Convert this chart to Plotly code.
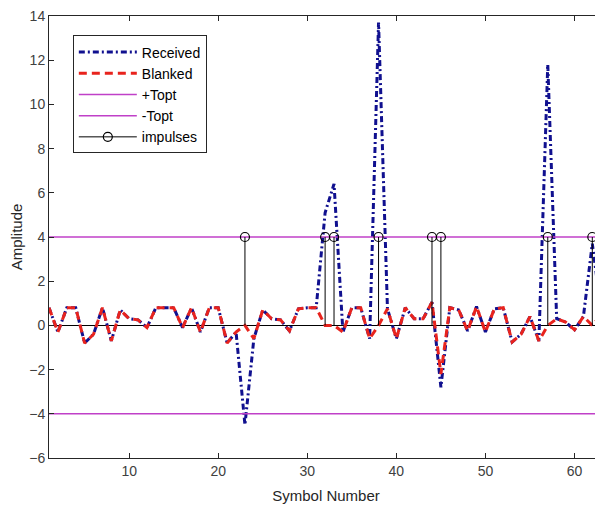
from plotly import graph_objects as go

# symbol index and the two signal traces
symbols = list(range(1, 65))

received = [0.8, -0.3, 0.8, 0.8, -0.8, -0.4, 0.8, -0.7, 0.7, 0.3,
            0.25, -0.1, 0.8, 0.8, 0.8, -0.1, 0.8, -0.3, 0.8, 0.8,
            -0.8, -0.3, -4.5, -0.6, 0.7, 0.3, 0.25, -0.25, 0.75, 0.8,
            0.8, 5.1, 6.4, -0.3, 0.8, 0.8, -0.6, 13.7, 0.75, -0.6,
            0.8, 0.3, 0.3, 1.05, -2.8, 0.8, 0.7, -0.25, 0.85, -0.3,
            0.75, 0.8, -0.75, -0.4, 0.4, -0.7, 11.8, 0.3, 0.15, -0.2,
            0.4, 3.7, 0.6, 0.3]

blanked = [0.8, -0.3, 0.8, 0.8, -0.8, -0.4, 0.8, -0.7, 0.7, 0.3,
           0.25, -0.1, 0.8, 0.8, 0.8, -0.1, 0.8, -0.3, 0.8, 0.8,
           -0.8, -0.3, 0.0, -0.6, 0.7, 0.3, 0.25, -0.25, 0.75, 0.8,
           0.8, 0.0, 0.0, -0.3, 0.8, 0.8, -0.6, 0.0, 0.75, -0.6,
           0.8, 0.3, 0.3, 1.05, -2.2, 0.8, 0.7, -0.25, 0.85, -0.3,
           0.75, 0.8, -0.75, -0.4, 0.4, -0.7, 0.0, 0.3, 0.15, -0.2,
           0.4, 0.0, 0.5, 0.3]

topt = 4
impulse_pos = [23, 32, 33, 38, 44, 45, 57, 62]
impulse_val = [4, 4, 4, 4, 4, 4, 4, 4]

x_ticks = [10, 20, 30, 40, 50, 60]
y_ticks = [-6, -4, -2, 0, 2, 4, 6, 8, 10, 12, 14]

FONT = "Arial, Liberation Sans, Helvetica, sans-serif"
AXIS_COL = "#262626"

fig = go.Figure()

fig.add_trace(go.Scatter(
    x=symbols, y=received, mode="lines", name="Received",
    line={"color": "#10108f", "width": 3, "dash": "6px,3px,2px,3px"},
))
fig.add_trace(go.Scatter(
    x=symbols, y=blanked, mode="lines", name="Blanked",
    line={"color": "#e8231d", "width": 3, "dash": "8px,5px"},
))
fig.add_trace(go.Scatter(
    x=[symbols[0], symbols[-1]], y=[topt, topt], mode="lines", name="+Topt",
    line={"color": "#c040c8", "width": 1.5},
))
fig.add_trace(go.Scatter(
    x=[symbols[0], symbols[-1]], y=[-topt, -topt], mode="lines", name="-Topt",
    line={"color": "#c040c8", "width": 1.5},
))

# stems: top point first (circle), then baseline point (hidden marker), then a gap
stem_x, stem_y, stem_mc = [], [], []
for p, v in zip(impulse_pos, impulse_val):
    stem_x += [p, p, None]
    stem_y += [v, 0, None]
    stem_mc += ["black", "rgba(0,0,0,0)", "rgba(0,0,0,0)"]

fig.add_trace(go.Scatter(
    x=stem_x, y=stem_y, mode="lines+markers", name="impulses",
    line={"color": "black", "width": 1},
    marker={"symbol": "circle-open", "size": 9, "color": stem_mc,
            "line": {"width": 1.2}},
))

# page body adds an 8px offset, so the figure is sized to what is visible
fig.update_layout(
    width=595, height=505,
    margin={"l": 41, "r": 0, "t": 8, "b": 55, "autoexpand": False},
    paper_bgcolor="white", plot_bgcolor="white",
    font={"family": FONT, "size": 14, "color": AXIS_COL},
    showlegend=True,
    legend={
        "x": 0.043, "y": 0.956, "xanchor": "left", "yanchor": "top",
        "bgcolor": "white", "bordercolor": AXIS_COL, "borderwidth": 1,
        "font": {"family": FONT, "size": 14, "color": "black"},
        "tracegroupgap": 0, "itemwidth": 58,
    },
)

fig.update_xaxes(
    range=[1, 63.2], tickvals=x_ticks, automargin=False,
    ticks="inside", ticklen=5, tickcolor=AXIS_COL,
    showline=True, linecolor=AXIS_COL, linewidth=1, mirror="ticks",
    showgrid=False, zeroline=False, ticklabeloverflow="allow",
    title={"text": "Symbol Number", "standoff": 12,
           "font": {"size": 15, "color": AXIS_COL}},
    tickfont={"size": 14, "color": "#404040"},
)
fig.update_yaxes(
    range=[-6, 14], tickvals=y_ticks, automargin=False,
    ticks="inside", ticklen=5, tickcolor=AXIS_COL,
    showline=True, linecolor=AXIS_COL, linewidth=1,
    showgrid=False, zeroline=True, zerolinecolor="black", zerolinewidth=1,
    ticklabeloverflow="allow",
    title={"text": "Amplitude", "standoff": 4,
           "font": {"size": 15, "color": AXIS_COL}},
    tickfont={"size": 14, "color": "#404040"},
)

fig.write_html("out.html")
